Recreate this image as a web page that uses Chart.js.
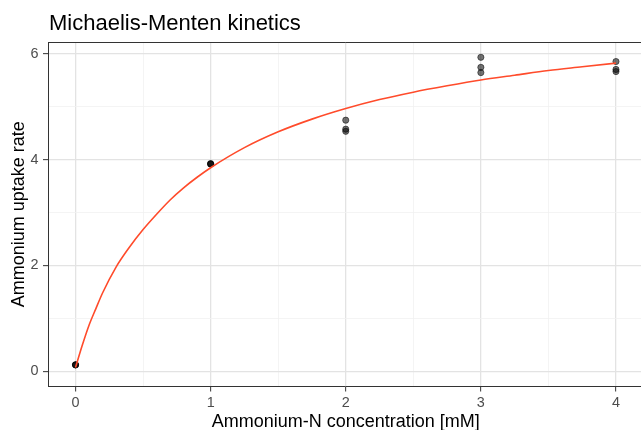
<!DOCTYPE html>
<html>
<head>
<meta charset="utf-8">
<script src="https://cdn.jsdelivr.net/npm/chart.js@4/dist/chart.umd.min.js"></script>
<style>
  html, body { margin: 0; padding: 0; background: #ffffff; overflow: hidden; }
  #wrap { width: 641px; height: 430px; overflow: hidden; position: relative; }
  #c { display: block; }
</style>
</head>
<body>
<div id="wrap"><canvas id="c" width="643" height="430"></canvas></div>
<script>
// ---- data ----
const chartTitle = "Michaelis-Menten kinetics";
const xTitle = "Ammonium-N concentration [mM]";
const yTitle = "Ammonium uptake rate";

// observed replicates
const concentration = [0, 0, 0, 1, 1, 1, 2, 2, 2, 3, 3, 3, 4, 4, 4];
const uptakeRate    = [0.12, 0.12, 0.12, 3.92, 3.92, 3.93, 4.75, 4.58, 4.54, 5.94, 5.75, 5.65, 5.86, 5.71, 5.67];

// fitted Michaelis-Menten curve
const fitConc = [0, 0.05, 0.1, 0.15, 0.2, 0.3, 0.4, 0.5, 0.6, 0.7, 0.8, 0.9, 1.0, 1.25, 1.5, 1.75, 2.0, 2.25, 2.5, 2.75, 3.0, 3.25, 3.5, 3.75, 4.0];
const fitRate = [0.07, 0.49, 0.87, 1.18, 1.48, 1.97, 2.35, 2.68, 2.97, 3.24, 3.47, 3.67, 3.85, 4.23, 4.53, 4.77, 4.97, 5.14, 5.28, 5.40, 5.51, 5.60, 5.69, 5.76, 5.83];

// axis ticks / grid
const xGrid = [0, 0.5, 1, 1.5, 2, 2.5, 3, 3.5, 4];
const xTickLabels = ["0", "1", "2", "3", "4"];
const yGrid = [0, 1, 2, 3, 4, 5, 6];
const yTickLabels = ["0", "2", "4", "6"];

// ---- chart ----
const majorGrid = '#e3e3e3';
const minorGrid = '#f1f1f1';
const axisDark = '#333333';
const tickText = '#4d4d4d';
const fontFam = '"Liberation Sans", Arial, sans-serif';

function isMajorX(v) { return xTickLabels.indexOf(String(v)) !== -1; }
function isMajorY(v) { return yTickLabels.indexOf(String(v)) !== -1; }

const titlePlugin = {
  id: 'ggTitle',
  afterDraw(chart) {
    const ctx = chart.ctx;
    const a = chart.chartArea;
    ctx.save();
    // top border of panel
    ctx.strokeStyle = axisDark;
    ctx.lineWidth = 1;
    ctx.beginPath();
    ctx.moveTo(a.left, a.top);
    ctx.lineTo(a.right, a.top);
    ctx.stroke();
    // title
    ctx.fillStyle = '#000000';
    ctx.font = '22px ' + fontFam;
    ctx.textAlign = 'left';
    ctx.textBaseline = 'alphabetic';
    ctx.fillText(chartTitle, a.left + 0.5, 29.5);
    ctx.restore();
  }
};

const scatterData = concentration.map((x, i) => ({ x: x, y: uptakeRate[i] }));
const lineData = fitConc.map((x, i) => ({ x: x, y: fitRate[i] }));

new Chart(document.getElementById('c'), {
  type: 'scatter',
  data: {
    datasets: [
      {
        type: 'line',
        label: 'fit',
        data: lineData,
        borderColor: '#ff4b2b',
        borderWidth: 1.6,
        pointRadius: 0,
        fill: false,
        cubicInterpolationMode: 'monotone'
      },
      {
        type: 'scatter',
        label: 'observed',
        data: scatterData,
        pointRadius: 3.1,
        backgroundColor: 'rgba(0,0,0,0.55)',
        borderColor: 'rgba(0,0,0,0.65)',
        borderWidth: 0.8
      }
    ]
  },
  options: {
    responsive: false,
    devicePixelRatio: 1,
    animation: false,
    layout: { autoPadding: false, padding: { top: 42.5, right: 0, left: 0, bottom: 0 } },
    plugins: {
      legend: { display: false },
      tooltip: { enabled: false },
      title: { display: false }
    },
    scales: {
      x: {
        type: 'linear',
        position: 'bottom',
        min: -0.2,
        max: 4.2,
        afterBuildTicks(scale) { scale.ticks = xGrid.map(v => ({ value: v })); },
        afterFit(scale) { scale.height = 44; scale.paddingLeft = 0; scale.paddingRight = 0; },
        border: { display: true, color: axisDark, width: 1 },
        grid: {
          color: c => isMajorX(c.tick.value) ? majorGrid : minorGrid,
          lineWidth: c => isMajorX(c.tick.value) ? 1.3 : 0.8,
          tickColor: c => isMajorX(c.tick.value) ? axisDark : 'rgba(0,0,0,0)',
          tickWidth: 1,
          tickLength: 5.5,
          drawTicks: true
        },
        ticks: {
          autoSkip: false,
          maxRotation: 0,
          padding: 3,
          color: tickText,
          font: { family: fontFam, size: 14.4 },
          callback: v => isMajorX(v) ? String(v) : ''
        },
        title: {
          display: true,
          text: xTitle,
          color: '#000000',
          font: { family: fontFam, size: 18, lineHeight: 0.9 },
          padding: { top: 0, bottom: 0 }
        }
      },
      y: {
        type: 'linear',
        position: 'left',
        min: -0.28,
        max: 6.22,
        afterBuildTicks(scale) { scale.ticks = yGrid.map(v => ({ value: v })); },
        afterFit(scale) { scale.width = 48.5; scale.paddingTop = 0; scale.paddingBottom = 0; },
        border: { display: true, color: axisDark, width: 1 },
        grid: {
          color: c => isMajorY(c.tick.value) ? majorGrid : minorGrid,
          lineWidth: c => isMajorY(c.tick.value) ? 1.3 : 0.8,
          tickColor: c => isMajorY(c.tick.value) ? axisDark : 'rgba(0,0,0,0)',
          tickWidth: 1,
          tickLength: 5.5,
          drawTicks: true
        },
        ticks: {
          autoSkip: false,
          padding: 4.5,
          color: tickText,
          font: { family: fontFam, size: 14.4 },
          callback: v => isMajorY(v) ? String(v) : ''
        },
        title: {
          display: true,
          text: yTitle,
          color: '#000000',
          font: { family: fontFam, size: 18, lineHeight: 1.2 },
          padding: { top: 8, bottom: 0 }
        }
      }
    }
  },
  plugins: [titlePlugin]
});
</script>
</body>
</html>
